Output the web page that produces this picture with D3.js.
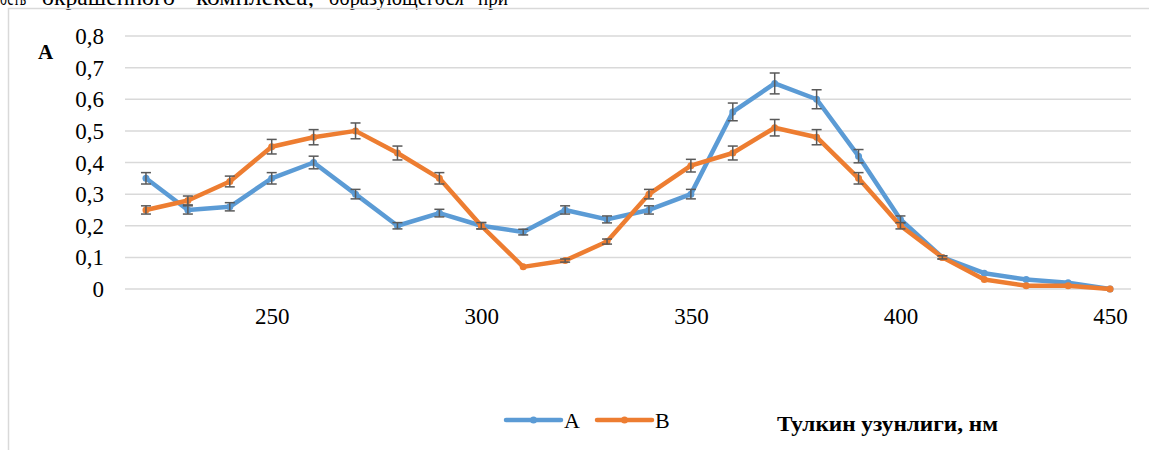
<!DOCTYPE html>
<html>
<head>
<meta charset="utf-8">
<script src="https://cdn.jsdelivr.net/npm/d3@7"></script>
<style>
  body { margin: 0; background: #fff; }
  svg, svg text { font-family: 'Liberation Serif', 'Times New Roman', serif; }
</style>
</head>
<body>
<script>
// wavelengths (nm)
var wavelengths = [220, 230, 240, 250, 260, 270, 280, 290, 300, 310, 320, 330,
                   340, 350, 360, 370, 380, 390, 400, 410, 420, 430, 440, 450];

// absorbance, series A and B
var seriesA = [0.35, 0.25, 0.26, 0.35, 0.40, 0.30, 0.20, 0.24, 0.20, 0.18, 0.25, 0.22,
               0.25, 0.30, 0.56, 0.65, 0.60, 0.42, 0.22, 0.10, 0.05, 0.03, 0.02, 0.00];
var seriesB = [0.25, 0.28, 0.34, 0.45, 0.48, 0.50, 0.43, 0.35, 0.20, 0.07, 0.09, 0.15,
               0.30, 0.39, 0.43, 0.51, 0.48, 0.35, 0.20, 0.10, 0.03, 0.01, 0.01, 0.00];

// error bar half-heights
var errA = [0.018, 0.013, 0.013, 0.018, 0.020, 0.015, 0.010, 0.012, 0.010, 0.009, 0.013, 0.011,
            0.013, 0.015, 0.028, 0.033, 0.030, 0.021, 0.011, 0.005, 0.003, 0.002, 0.001, 0];
var errB = [0.013, 0.014, 0.017, 0.023, 0.024, 0.025, 0.022, 0.018, 0.010, 0.004, 0.005, 0.008,
            0.015, 0.020, 0.022, 0.026, 0.024, 0.018, 0.010, 0.005, 0.002, 0.001, 0.001, 0];

var xTickLabels = [250, 300, 350, 400, 450];
var yTicks = [0, 0.1, 0.2, 0.3, 0.4, 0.5, 0.6, 0.7, 0.8];

var seriesNames = ["A", "B"];
var colors = ["#5b9bd5", "#ed7d31"];

function init() {
    var w = 1149, h = 450;
    var serif = "'Liberation Serif', 'Times New Roman', serif";

    var svg = d3.select("body").append("svg")
        .attr("width", w)
        .attr("height", h);

    // piece of the document text cut off at the top: [word, x, width]
    var topWords = [["ость", 0, 26], ["окрашенного", 42, 133], ["комплекса,", 196, 118],
                    ["образующегося", 329, 135], ["при", 478, 30]];
    svg.selectAll("text.doc")
       .data(topWords)
       .enter()
       .append("text")
       .attr("class", "doc")
       .attr("x", d => d[1])
       .attr("y", 5)
       .attr("textLength", d => d[2])
       .attr("lengthAdjust", "spacingAndGlyphs")
       .style("font-size", "23px")
       .attr("fill", "#000")
       .text(d => d[0]);

    // chart frame (only top and left edges are visible)
    svg.append("path")
       .attr("d", "M8.5,452 L8.5,8.5 L1152,8.5")
       .attr("fill", "none")
       .attr("stroke", "#d9d9d9")
       .attr("stroke-width", 1.5);

    var x = d3.scaleBand()
              .domain(wavelengths)
              .range([125, 1131]);
    var cx = d => x(d) + x.bandwidth() / 2;

    var y = d3.scaleLinear()
              .domain([0, 0.8])
              .range([289, 36]);

    // gridlines
    svg.append("g")
       .selectAll("line")
       .data(yTicks)
       .enter()
       .append("line")
       .attr("x1", 125)
       .attr("x2", 1131)
       .attr("y1", d => y(d))
       .attr("y2", d => y(d))
       .attr("stroke", "#d9d9d9")
       .attr("stroke-width", 1.5);

    // y axis labels
    var fmt = d => d === 0 ? "0" : d3.format(".1f")(d).replace(".", ",");
    var yAxis = svg.append("g")
       .attr("transform", "translate(104,0)")
       .call(d3.axisLeft(y).tickValues(yTicks).tickFormat(fmt).tickSize(0).tickPadding(0));
    yAxis.attr("font-family", null).attr("font-size", null);
    yAxis.select(".domain").remove();
    yAxis.selectAll("text")
         .style("font-family", serif)
         .style("font-size", "23px")
         .attr("fill", "#000")
         .attr("dy", "0.33em");

    // x axis labels
    var xAxis = svg.append("g")
       .attr("transform", "translate(0,289)")
       .call(d3.axisBottom(d3.scalePoint().domain(wavelengths).range([cx(220), cx(450)]))
               .tickValues(xTickLabels).tickSize(0).tickPadding(19));
    xAxis.attr("font-family", null).attr("font-size", null);
    xAxis.select(".domain").remove();
    xAxis.selectAll("text")
         .style("font-family", serif)
         .style("font-size", "23px")
         .attr("fill", "#000");

    // "A" axis label
    svg.append("text")
       .attr("x", 38)
       .attr("y", 59)
       .style("font-size", "21px")
       .style("font-weight", "bold")
       .text("A");

    var allSeries = [
        { name: seriesNames[0], values: seriesA, err: errA, color: colors[0] },
        { name: seriesNames[1], values: seriesB, err: errB, color: colors[1] }
    ];

    var line = d3.line()
                 .x((d, i) => cx(wavelengths[i]))
                 .y(d => y(d));

    allSeries.forEach(function(s) {
        var g = svg.append("g");

        g.append("path")
         .datum(s.values)
         .attr("d", line)
         .attr("fill", "none")
         .attr("stroke", s.color)
         .attr("stroke-width", 4.5)
         .attr("stroke-linejoin", "round");

        g.selectAll("circle")
         .data(s.values)
         .enter()
         .append("circle")
         .attr("cx", (d, i) => cx(wavelengths[i]))
         .attr("cy", d => y(d))
         .attr("r", 3.5)
         .attr("fill", s.color);

        // error bars
        var eb = g.selectAll("g.err")
                  .data(s.values.map((v, i) => ({ v: v, e: s.err[i], k: wavelengths[i] })))
                  .enter()
                  .filter(d => d.e > 0.004)
                  .append("g")
                  .attr("stroke", "#595959")
                  .attr("stroke-width", 1.5);
        eb.append("line")
          .attr("x1", d => cx(d.k)).attr("x2", d => cx(d.k))
          .attr("y1", d => y(d.v + d.e)).attr("y2", d => y(d.v - d.e));
        eb.append("line")
          .attr("x1", d => cx(d.k) - 5).attr("x2", d => cx(d.k) + 5)
          .attr("y1", d => y(d.v + d.e)).attr("y2", d => y(d.v + d.e));
        eb.append("line")
          .attr("x1", d => cx(d.k) - 5).attr("x2", d => cx(d.k) + 5)
          .attr("y1", d => y(d.v - d.e)).attr("y2", d => y(d.v - d.e));
    });

    // legend
    var legendX = [506, 597];
    allSeries.forEach(function(s, i) {
        var lg = svg.append("g").attr("transform", "translate(" + legendX[i] + ",420)");
        lg.append("line")
          .attr("x1", 0).attr("x2", 55)
          .attr("stroke", s.color)
          .attr("stroke-width", 4.5)
          .attr("stroke-linecap", "round");
        lg.append("circle")
          .attr("cx", 27.5).attr("r", 3.5)
          .attr("fill", s.color);
        lg.append("text")
          .attr("x", 58)
          .attr("y", 8)
          .style("font-size", "22px")
          .text(s.name);
    });

    // x axis title
    svg.append("text")
       .attr("x", 777)
       .attr("y", 431)
       .attr("textLength", 221)
       .attr("lengthAdjust", "spacingAndGlyphs")
       .style("font-size", "21px")
       .style("font-weight", "bold")
       .text("Тулкин узунлиги, нм");
}

window.onload = init;
</script>
</body>
</html>
